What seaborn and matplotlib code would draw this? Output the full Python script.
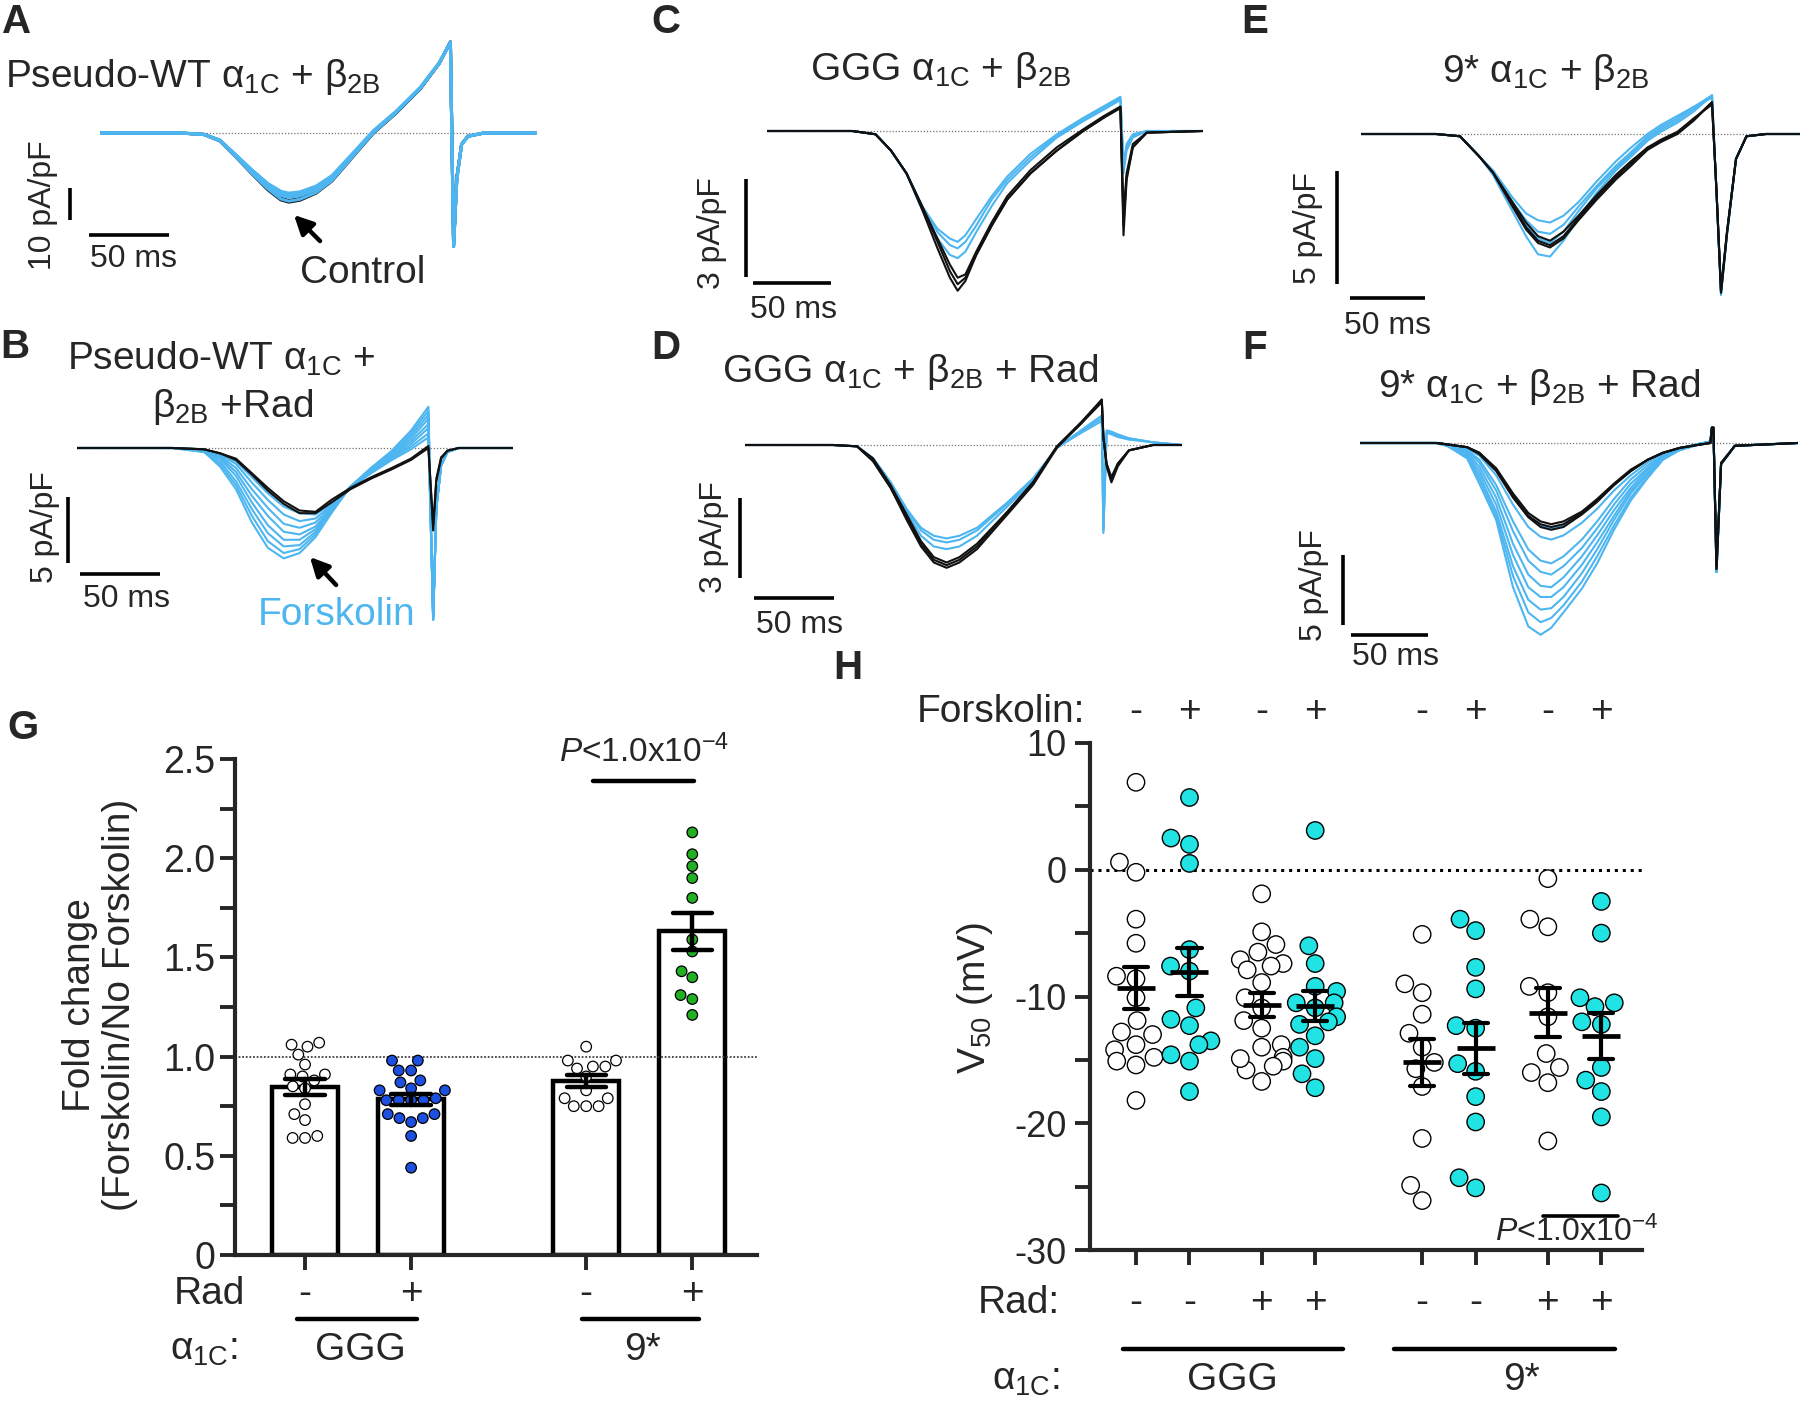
import numpy as np
import pandas as pd
import matplotlib
matplotlib.use("Agg")
import matplotlib.pyplot as plt
import matplotlib.transforms as mtransforms
from matplotlib.lines import Line2D
from matplotlib.patches import FancyArrowPatch
from matplotlib.ticker import MultipleLocator
import seaborn as sns

# ---------------------------------------------------------------- trace data
# current density (pA/pF) sampled at the listed times (ms)
t_A = [0, 50, 65, 75, 85, 95, 105, 113, 118, 125, 135, 145, 160, 171, 185, 200, 212, 219, 221, 223, 226, 230, 240, 273]
A_ctrl = [
    [0, 0, -0.5, -2.5, -7.5, -12.8, -17.8, -20.9, -21.6, -21.0, -18.8, -15.0, -6.3, 0.0, 6.2, 13.7, 21.7, 28.4, -35.0, -14.0, -3.5, -1.0, 0, 0],
    [0, 0, -0.4, -2.3, -7.2, -12.4, -17.4, -20.4, -21.1, -20.5, -18.4, -14.6, -6.0, 0.2, 6.3, 13.8, 21.8, 28.5, -35.0, -14.0, -3.5, -1.0, 0, 0],
]
A_fsk = [
    [0, 0, -0.4, -2.2, -6.8, -11.5, -15.8, -18.2, -18.8, -18.4, -16.6, -13.3, -5.2, 0.8, 6.8, 14.2, 22.0, 28.2, -35.5, -14.5, -3.6, -1.0, 0, 0],
    [0, 0, -0.4, -2.3, -7.0, -11.9, -16.3, -18.8, -19.4, -19.0, -17.2, -13.8, -5.5, 0.6, 6.6, 14.0, 21.9, 28.3, -35.5, -14.5, -3.6, -1.0, 0, 0],
    [0, 0, -0.5, -2.4, -7.2, -12.3, -16.9, -19.5, -20.1, -19.6, -17.7, -14.2, -5.8, 0.4, 6.5, 13.9, 21.8, 28.4, -35.5, -14.5, -3.6, -1.0, 0, 0],
    [0, 0, -0.5, -2.5, -7.5, -12.7, -17.5, -20.6, -21.3, -20.7, -18.6, -14.9, -6.2, 0.1, 6.3, 13.8, 21.8, 28.4, -35.5, -14.5, -3.6, -1.0, 0, 0],
]

t_B = [0, 60, 80, 90, 100, 110, 120, 130, 140, 150, 160, 172, 185, 198, 210, 221, 224, 226, 229, 233, 240, 274]
B_ctrl = [
    [0, 0, -0.1, -0.4, -0.8, -1.9, -3.0, -4.0, -4.7, -4.8, -3.9, -3.0, -2.2, -1.5, -0.8, 0.15, -6.2, -2.5, -0.8, -0.2, 0, 0],
    [0, 0, -0.1, -0.4, -0.9, -2.0, -3.2, -4.2, -4.9, -4.9, -4.1, -3.1, -2.3, -1.6, -0.9, 0.0, -5.8, -2.3, -0.7, -0.2, 0, 0],
]
B_fsk = [
    [0, 0, -0.1, -0.5, -1.0, -2.2, -3.4, -4.4, -4.9, -5.0, -4.2, -3.0, -1.9, -0.9, -0.1, 0.8, -12.6, -4.5, -1.3, -0.3, 0, 0],
    [0, 0, -0.1, -0.5, -1.2, -2.6, -3.9, -5.0, -5.5, -5.3, -4.3, -3.0, -1.8, -0.8, 0.1, 1.1, -12.7, -4.5, -1.3, -0.3, 0, 0],
    [0, 0, -0.1, -0.6, -1.5, -3.1, -4.5, -5.7, -6.0, -5.6, -4.4, -2.9, -1.8, -0.7, 0.3, 1.5, -12.8, -4.5, -1.3, -0.3, 0, 0],
    [0, 0, -0.2, -0.7, -1.8, -3.6, -5.1, -6.3, -6.5, -5.9, -4.5, -2.9, -1.7, -0.6, 0.5, 1.8, -12.9, -4.5, -1.3, -0.3, 0, 0],
    [0, 0, -0.2, -0.8, -2.1, -4.1, -5.8, -6.9, -6.9, -6.1, -4.6, -2.9, -1.6, -0.5, 0.7, 2.2, -12.9, -4.5, -1.3, -0.3, 0, 0],
    [0, 0, -0.2, -1.0, -2.5, -4.6, -6.4, -7.4, -7.3, -6.3, -4.7, -2.9, -1.6, -0.4, 0.9, 2.5, -12.9, -4.5, -1.3, -0.3, 0, 0],
    [0, 0, -0.3, -1.2, -2.8, -5.1, -7.0, -7.9, -7.6, -6.5, -4.8, -2.9, -1.5, -0.3, 1.1, 2.8, -12.9, -4.5, -1.3, -0.3, 0, 0],
    [0, 0, -0.3, -1.4, -3.1, -5.6, -7.5, -8.3, -7.9, -6.7, -4.9, -2.9, -1.5, -0.2, 1.3, 3.1, -12.9, -4.5, -1.3, -0.3, 0, 0],
]

t_C = [0, 55, 70, 80, 90, 100, 110, 118, 123, 128, 135, 145, 155, 170, 187, 204, 217, 228, 230, 232, 236, 245, 281]
C_ctrl = [
    [0, 0, -0.1, -0.6, -1.3, -2.4, -3.6, -4.5, -4.9, -4.6, -3.8, -2.9, -2.1, -1.3, -0.6, 0.0, 0.4, 0.74, -3.2, -1.5, -0.5, -0.05, 0],
    [0, 0, -0.1, -0.6, -1.3, -2.3, -3.4, -4.3, -4.7, -4.5, -3.8, -2.9, -2.1, -1.3, -0.6, 0.0, 0.4, 0.7, -2.6, -1.3, -0.4, -0.05, 0],
    [0, 0, -0.1, -0.6, -1.3, -2.3, -3.3, -4.1, -4.5, -4.4, -3.7, -2.8, -2.0, -1.2, -0.5, 0.05, 0.45, 0.75, -2.9, -1.4, -0.5, -0.05, 0],
]
C_fsk = [
    [0, 0, -0.1, -0.6, -1.3, -2.3, -3.1, -3.5, -3.6, -3.4, -2.9, -2.1, -1.5, -0.8, -0.15, 0.35, 0.7, 1.0, -1.1, -0.5, -0.15, 0, 0],
    [0, 0, -0.1, -0.6, -1.3, -2.4, -3.3, -3.8, -3.9, -3.7, -3.1, -2.3, -1.6, -0.9, -0.2, 0.3, 0.65, 0.95, -1.3, -0.6, -0.2, 0, 0],
    [0, 0, -0.1, -0.6, -1.3, -2.3, -3.0, -3.3, -3.4, -3.2, -2.7, -2.0, -1.4, -0.7, -0.1, 0.4, 0.75, 1.05, -1.0, -0.4, -0.1, 0, 0],
]

t_D = [0, 55, 70, 80, 91, 101, 110, 118, 126, 134, 145, 164, 180, 195, 210, 223, 224, 226, 229, 233, 240, 255, 273]
D_ctrl = [
    [0, 0, -0.05, -0.6, -1.6, -2.8, -3.8, -4.4, -4.6, -4.4, -3.9, -2.6, -1.5, -0.1, 0.8, 1.7, 0.3, -0.8, -1.4, -0.8, -0.2, 0, 0],
    [0, 0, -0.05, -0.6, -1.6, -2.7, -3.7, -4.3, -4.5, -4.3, -3.8, -2.5, -1.4, -0.05, 0.85, 1.7, 0.3, -0.7, -1.2, -0.7, -0.2, 0, 0],
    [0, 0, -0.05, -0.5, -1.5, -2.6, -3.6, -4.2, -4.4, -4.2, -3.7, -2.5, -1.4, -0.05, 0.8, 1.6, 0.3, -0.7, -1.3, -0.7, -0.2, 0, 0],
]
D_fsk = [
    [0, 0, -0.05, -0.5, -1.4, -2.4, -3.2, -3.55, -3.65, -3.55, -3.2, -2.2, -1.3, -0.1, 0.5, 1.0, -3.3, 0.5, 0.45, 0.35, 0.25, 0.1, 0],
    [0, 0, -0.05, -0.5, -1.4, -2.5, -3.4, -3.8, -3.9, -3.8, -3.4, -2.3, -1.35, -0.1, 0.45, 0.9, -3.1, 0.45, 0.4, 0.3, 0.2, 0.1, 0],
    [0, 0, -0.05, -0.5, -1.4, -2.4, -3.1, -3.4, -3.5, -3.4, -3.1, -2.15, -1.25, -0.1, 0.55, 1.1, -3.2, 0.55, 0.5, 0.4, 0.25, 0.1, 0],
]

t_E = [0, 50, 66, 79, 88, 101, 110, 118, 126, 135, 145, 157, 170, 180, 191, 200, 211, 222, 234, 237, 240, 244, 250, 257, 270, 293]
E_ctrl = [
    [0, 0, -0.1, -1.0, -1.7, -3.2, -4.2, -4.8, -5.0, -4.6, -3.8, -2.9, -2.0, -1.4, -0.7, -0.35, 0.0, 0.6, 1.4, -2.5, -7.0, -4.4, -1.1, -0.1, 0, 0],
    [0, 0, -0.1, -1.0, -1.7, -3.1, -4.1, -4.7, -4.9, -4.5, -3.7, -2.8, -1.9, -1.3, -0.6, -0.3, 0.05, 0.65, 1.4, -2.5, -6.9, -4.3, -1.1, -0.1, 0, 0],
    [0, 0, -0.1, -1.0, -1.7, -3.0, -3.9, -4.5, -4.7, -4.3, -3.6, -2.7, -1.8, -1.2, -0.6, -0.25, 0.1, 0.7, 1.3, -2.5, -6.9, -4.3, -1.1, -0.1, 0, 0],
]
E_fsk = [
    [0, 0, -0.1, -1.0, -1.8, -3.4, -4.5, -5.3, -5.4, -4.7, -3.7, -2.6, -1.6, -1.0, -0.3, 0.1, 0.5, 1.0, 1.7, -2.6, -7.1, -4.4, -1.1, -0.1, 0, 0],
    [0, 0, -0.1, -1.0, -1.7, -3.0, -3.8, -4.3, -4.4, -4.0, -3.2, -2.3, -1.4, -0.8, -0.1, 0.3, 0.7, 1.2, 1.7, -2.6, -7.0, -4.4, -1.1, -0.1, 0, 0],
    [0, 0, -0.1, -1.0, -1.6, -2.8, -3.5, -3.8, -3.9, -3.6, -3.0, -2.1, -1.2, -0.6, 0.0, 0.4, 0.8, 1.2, 1.6, -2.6, -7.0, -4.4, -1.1, -0.1, 0, 0],
    [0, 0, -0.1, -1.0, -1.7, -3.1, -4.0, -4.6, -4.8, -4.3, -3.4, -2.4, -1.5, -0.9, -0.2, 0.2, 0.6, 1.1, 1.7, -2.6, -7.0, -4.4, -1.1, -0.1, 0, 0],
]

t_F = [0, 50, 57, 70, 78, 89, 100, 110, 118, 125, 133, 145, 155, 166, 177, 188, 198, 209, 220, 229, 230, 231, 233, 236, 245, 286]
F_ctrl = [
    [0, 0, -0.1, -0.3, -0.7, -1.9, -3.8, -5.2, -5.8, -6.0, -5.8, -5.0, -4.1, -3.0, -2.0, -1.2, -0.7, -0.35, -0.15, 0.0, 1.1, 1.1, -9.0, -1.5, -0.2, 0],
    [0, 0, -0.1, -0.3, -0.7, -1.8, -3.6, -5.0, -5.6, -5.8, -5.6, -4.9, -4.0, -2.9, -1.9, -1.2, -0.7, -0.35, -0.15, 0.0, 1.1, 1.1, -8.8, -1.4, -0.2, 0],
    [0, 0, -0.1, -0.3, -0.8, -2.0, -3.9, -5.3, -6.0, -6.2, -6.0, -5.1, -4.2, -3.0, -2.0, -1.2, -0.7, -0.35, -0.15, 0.0, 1.1, 1.1, -9.0, -1.5, -0.2, 0],
]
F_fsk = [
    [0, 0, -0.1, -0.3, -0.7, -1.9, -3.8, -5.2, -5.9, -6.1, -5.9, -5.1, -4.2, -3.0, -2.0, -1.2, -0.7, -0.35, -0.1, 0.1, 1.1, 1.1, -9.2, -1.5, -0.2, 0],
    [0, 0, -0.1, -0.4, -0.9, -2.3, -4.4, -6.0, -6.7, -6.9, -6.6, -5.7, -4.7, -3.4, -2.3, -1.4, -0.75, -0.4, -0.1, 0.1, 1.1, 1.1, -9.2, -1.5, -0.2, 0],
    [0, 0, -0.1, -0.5, -1.2, -3.0, -5.6, -7.6, -8.4, -8.6, -8.1, -6.9, -5.6, -4.0, -2.6, -1.6, -0.85, -0.4, -0.1, 0.1, 1.1, 1.1, -9.2, -1.5, -0.2, 0],
    [0, 0, -0.1, -0.6, -1.4, -3.4, -6.3, -8.4, -9.2, -9.4, -8.8, -7.5, -6.1, -4.4, -2.9, -1.8, -0.9, -0.45, -0.1, 0.1, 1.1, 1.1, -9.2, -1.5, -0.2, 0],
    [0, 0, -0.1, -0.7, -1.7, -3.9, -7.2, -9.4, -10.2, -10.3, -9.6, -8.1, -6.6, -4.8, -3.2, -1.9, -0.95, -0.45, -0.1, 0.1, 1.1, 1.1, -9.2, -1.5, -0.2, 0],
    [0, 0, -0.2, -0.8, -2.0, -4.4, -8.0, -10.3, -11.0, -11.0, -10.3, -8.7, -7.1, -5.2, -3.4, -2.1, -1.0, -0.5, -0.1, 0.1, 1.1, 1.1, -9.2, -1.5, -0.2, 0],
    [0, 0, -0.2, -0.9, -2.3, -4.9, -8.8, -11.2, -11.9, -11.8, -11.0, -9.3, -7.6, -5.5, -3.6, -2.2, -1.05, -0.5, -0.15, 0.1, 1.1, 1.1, -9.2, -1.5, -0.2, 0],
    [0, 0, -0.2, -1.0, -2.6, -5.2, -9.5, -12.1, -12.8, -12.5, -11.6, -9.9, -8.1, -5.9, -3.9, -2.4, -1.1, -0.5, -0.15, 0.1, 1.1, 1.1, -9.2, -1.5, -0.2, 0],
    [0, 0, -0.2, -1.1, -2.9, -5.5, -10.3, -13.1, -13.7, -13.2, -12.1, -10.4, -8.6, -6.2, -4.1, -2.5, -1.2, -0.5, -0.15, 0.1, 1.1, 1.1, -9.2, -1.5, -0.2, 0],
]

# ---------------------------------------------------------------- panel G data
g_labels = ["GGG -", "GGG +", "9* -", "9* +"]
g_ggg_norad = [1.06, 1.05, 1.07, 1.01, 0.96, 0.91, 0.90, 0.91, 0.84, 0.85, 0.76, 0.71, 0.68, 0.59, 0.60, 0.59, 0.88]
g_ggg_rad = [0.98, 0.98, 0.93, 0.93, 0.88, 0.87, 0.84, 0.83, 0.83, 0.78, 0.78, 0.79, 0.78, 0.78,
             0.71, 0.69, 0.69, 0.67, 0.71, 0.60, 0.44]
g_9_norad = [1.05, 0.98, 0.98, 0.95, 0.95, 0.94, 0.90, 0.83, 0.79, 0.79, 0.75, 0.75, 0.75]
g_9_rad = [2.13, 2.02, 1.96, 1.90, 1.80, 1.59, 1.53, 1.43, 1.40, 1.31, 1.21, 1.29]

# ---------------------------------------------------------------- panel H data (V50, mV)
h_labels = ["GGG r- f-", "GGG r- f+", "GGG r+ f-", "GGG r+ f+", "9* r- f-", "9* r- f+", "9* r+ f-", "9* r+ f+"]
h_fsk = ["-", "+", "-", "+", "-", "+", "-", "+"]
h_rad = ["-", "-", "+", "+", "-", "-", "+", "+"]
h_ggg_f0 = [6.9, 0.6, -0.2, -3.9, -5.8, -8.4, -8.6, -10.1, -11.9, -12.8, -13.8, -14.2, -14.8, -15.1, -15.4, -18.2, -13.0]
h_ggg_f1 = [5.7, 2.5, 2.0, 0.5, -6.3, -7.6, -8.0, -10.9, -11.8, -12.3, -13.5, -13.8, -14.6, -15.1, -17.5]
h_ggg_rad_f0 = [-1.9, -4.9, -5.9, -6.5, -7.1, -7.4, -7.6, -7.9, -8.9, -10.1, -10.9, -11.9, -13.8, -14.8,
                -15.1, -15.5, -15.8, -16.7, -14.9, -12.5, -14.0]
h_ggg_rad_f1 = [3.1, -6.0, -7.4, -9.2, -9.6, -10.5, -10.5, -10.9, -11.6, -12.2, -13.1, -14.0, -14.9, -16.1, -17.2, -12.0]
h_9_f0 = [-5.1, -9.0, -9.7, -11.4, -12.9, -14.0, -15.2, -15.7, -17.1, -21.2, -24.9, -26.1]
h_9_f1 = [-3.9, -4.8, -7.7, -9.4, -12.3, -12.5, -15.3, -15.9, -17.9, -19.9, -24.3, -25.1]
h_9_rad_f0 = [-0.7, -3.9, -4.5, -9.2, -9.7, -11.6, -14.5, -15.6, -16.0, -16.8, -21.4]
h_9_rad_f1 = [-2.5, -5.0, -10.1, -10.5, -10.8, -12.0, -15.6, -16.6, -17.5, -19.5, -25.5, -12.2]

# ---------------------------------------------------------------- style
W, H = 1800, 1414
BLUE_TRACE = "#4db6f0"
CYAN = "#22e3e3"
G_COLORS = {"GGG -": "white", "GGG +": "#1d4fe0", "9* -": "white", "9* +": "#22b022"}
LETTER = dict(fontsize=29, fontweight="bold", ha="center", va="center")

sns.set_theme(style="ticks")
plt.rcParams["font.family"] = ["Liberation Sans", "DejaVu Sans"]
plt.rcParams["mathtext.fontset"] = "custom"
plt.rcParams["mathtext.rm"] = "Liberation Sans"
plt.rcParams["mathtext.it"] = "Liberation Sans:italic"
plt.rcParams["mathtext.bf"] = "Liberation Sans:bold"
plt.rcParams["axes.unicode_minus"] = False

fig = plt.figure(figsize=(W / 100, H / 100), dpi=100)
fig.patch.set_facecolor("white")


def fx(x):
    return x / W


def fy(y):
    return 1 - y / H


def ftext(x, y, s, **kw):
    kw.setdefault("fontsize", 28)
    fig.text(fx(x), fy(y), s, **kw)


def sweeps_frame(t, ctrl, fsk):
    rows = []
    for cond, sweeps in (("ctrl", ctrl), ("fsk", fsk)):
        for k, sw in enumerate(sweeps):
            assert len(sw) == len(t)
            for ti, v in zip(t, sw):
                rows.append((cond, f"{cond}{k}", ti, v))
    return pd.DataFrame(rows, columns=["cond", "sweep", "t", "I"])


def trace_panel(t, ctrl, fsk, x0, y0, px_ms, px_unit, ilim, blue_on_top, bars, lw=1.5):
    t_end = t[-1]
    left, right = x0, x0 + t_end * px_ms
    top, bottom = y0 - ilim[1] * px_unit, y0 - ilim[0] * px_unit
    ax = fig.add_axes([fx(left), fy(bottom), (right - left) / W, (bottom - top) / H])
    ax.set_facecolor("none")
    ax.axhline(0, ls=(0, (1, 1.5)), lw=0.9, color="0.45", zorder=0)
    df = sweeps_frame(t, ctrl, fsk)
    order = ["ctrl", "fsk"] if blue_on_top else ["fsk", "ctrl"]
    colors = {"ctrl": "#111111", "fsk": BLUE_TRACE}
    for cond in order:
        sns.lineplot(data=df[df["cond"] == cond], x="t", y="I", units="sweep", estimator=None,
                     color=colors[cond], lw=lw, ax=ax, legend=False)
    ax.set_xlim(0, t_end)
    ax.set_ylim(*ilim)
    ax.axis("off")
    # scale bars: 50 ms and v_len pA/pF
    h_left, h_y, v_x, v_top, v_len = bars
    tt = lambda x: (x - x0) / px_ms
    ii = lambda y: (y0 - y) / px_unit
    ax.plot([tt(h_left), tt(h_left) + 50], [ii(h_y), ii(h_y)], color="black", lw=2.6,
            clip_on=False, solid_capstyle="butt")
    ax.plot([tt(v_x), tt(v_x)], [ii(v_top), ii(v_top) - v_len], color="black", lw=2.6,
            clip_on=False, solid_capstyle="butt")
    return ax


def arrow(tail, head):
    fig.add_artist(FancyArrowPatch((fx(tail[0]), fy(tail[1])), (fx(head[0]), fy(head[1])),
                                   transform=fig.transFigure, arrowstyle="-|>",
                                   mutation_scale=28, lw=3.2, color="black"))


a1 = "α$_{\\mathregular{1C}}$"
b2 = "β$_{\\mathregular{2B}}$"

# ---------------------------------------------------------------- A
trace_panel(t_A, A_ctrl, A_fsk, 100, 133, 1.6, 3.2, (-36, 30), True, (89, 235, 70, 188, 10), lw=2.2)
ftext(17, 22, "A", **LETTER)
ftext(5, 87, f"Pseudo-WT {a1} + {b2}", ha="left", va="baseline")
ftext(43, 205, "10 pA/pF", fontsize=23, rotation=90, ha="center", va="center")
ftext(133, 267, "50 ms", fontsize=23, ha="center", va="baseline")
ftext(300, 283, "Control", ha="left", va="baseline")
arrow((322, 243), (292, 213))

# ---------------------------------------------------------------- B
trace_panel(t_B, B_ctrl, B_fsk, 77, 448, 1.59, 13.3, (-14, 4), False, (80, 574, 68, 497, 5))
ftext(15, 347, "B", **LETTER)
ftext(67, 370, f"Pseudo-WT {a1} +", ha="left", va="baseline")
ftext(152, 417, f"{b2} +Rad", ha="left", va="baseline")
ftext(45, 527, "5 pA/pF", fontsize=23, rotation=90, ha="center", va="center")
ftext(126, 607, "50 ms", fontsize=23, ha="center", va="baseline")
ftext(258, 625, "Forskolin", ha="left", va="baseline", color=BLUE_TRACE)
arrow((338, 587), (308, 555))

# ---------------------------------------------------------------- C
trace_panel(t_C, C_ctrl, C_fsk, 767, 131, 1.55, 32.6, (-5.5, 1.5), False, (753, 283, 746, 179, 3))
ftext(666, 22, "C", **LETTER)
ftext(810, 80, f"GGG {a1} + {b2}", ha="left", va="baseline")
ftext(712, 233, "3 pA/pF", fontsize=23, rotation=90, ha="center", va="center")
ftext(793, 318, "50 ms", fontsize=23, ha="center", va="baseline")

# ---------------------------------------------------------------- D
trace_panel(t_D, D_ctrl, D_fsk, 745, 445, 1.6, 26.7, (-5, 2.2), False, (754, 598, 740, 498, 3))
ftext(666, 348, "D", **LETTER)
ftext(722, 382, f"GGG {a1} + {b2} + Rad", ha="left", va="baseline")
ftext(714, 537, "3 pA/pF", fontsize=23, rotation=90, ha="center", va="center")
ftext(799, 633, "50 ms", fontsize=23, ha="center", va="baseline")

# ---------------------------------------------------------------- E
trace_panel(t_E, E_ctrl, E_fsk, 1361, 134, 1.5, 22.7, (-7.5, 2), False, (1350, 298, 1337, 171, 5))
ftext(1255, 22, "E", **LETTER)
ftext(1442, 82, f"9* {a1} + {b2}", ha="left", va="baseline")
ftext(1308, 228, "5 pA/pF", fontsize=23, rotation=90, ha="center", va="center")
ftext(1387, 334, "50 ms", fontsize=23, ha="center", va="baseline")

# ---------------------------------------------------------------- F
trace_panel(t_F, F_ctrl, F_fsk, 1360, 443, 1.53, 14.0, (-14.5, 1.5), False, (1351, 635, 1343, 555, 5))
ftext(1255, 348, "F", **LETTER)
ftext(1378, 397, f"9* {a1} + {b2} + Rad", ha="left", va="baseline")
ftext(1314, 585, "5 pA/pF", fontsize=23, rotation=90, ha="center", va="center")
ftext(1396, 665, "50 ms", fontsize=23, ha="center", va="baseline")

# ---------------------------------------------------------------- G
g_pos = {"GGG -": 0.0, "GGG +": 1.0, "9* -": 2.65, "9* +": 3.65}
dfG = pd.concat([pd.DataFrame({"group": name, "fold": vals})
                 for name, vals in zip(g_labels, [g_ggg_norad, g_ggg_rad, g_9_norad, g_9_rad])],
                ignore_index=True)
dfG["pos"] = dfG["group"].map(g_pos)

axG = fig.add_axes([fx(235), fy(1255), 522 / W, 496 / H])
sns.barplot(data=dfG, x="pos", y="fold", native_scale=True, errorbar=None, width=0.62,
            color="white", edgecolor="black", linewidth=3.2, ax=axG)
axG.axhline(1.0, ls=(0, (1, 1)), lw=1.3, color="0.25", zorder=1.5)
sns.swarmplot(data=dfG, x="pos", y="fold", hue="group", palette=G_COLORS, native_scale=True,
              size=7.6, edgecolor="black", linewidth=0.9, legend=False, ax=axG, zorder=3)
sns.pointplot(data=dfG, x="pos", y="fold", native_scale=True, errorbar="se", capsize=0.37,
              linestyle="none", marker="", color="black", err_kws={"linewidth": 3.2, "zorder": 5},
              ax=axG)
axG.set_xlim(-0.66, 4.26)
axG.set_ylim(0, 2.5)
axG.set_yticks([0, 0.5, 1.0, 1.5, 2.0, 2.5])
axG.set_yticklabels(["0", "0.5", "1.0", "1.5", "2.0", "2.5"])
axG.yaxis.set_minor_locator(MultipleLocator(0.25))
axG.set_xticks(list(g_pos.values()))
axG.set_xticklabels([])
axG.set_xlabel("")
axG.set_ylabel("")
sns.despine(ax=axG)
for sp in ("left", "bottom"):
    axG.spines[sp].set_linewidth(3)
axG.tick_params(axis="y", which="both", length=11, width=2.8, labelsize=27, pad=3)
axG.tick_params(axis="x", which="both", length=11, width=2.8)
axG.set_facecolor("none")

blendG = mtransforms.blended_transform_factory(axG.transData, fig.transFigure)
for name, sign in zip(g_labels, ["-", "+", "-", "+"]):
    axG.text(g_pos[name], fy(1294), sign, transform=blendG, ha="center", va="center", fontsize=28)
for x0_, x1_ in ((-0.08, 1.06), (2.61, 3.71)):
    axG.add_line(Line2D([x0_, x1_], [fy(1319), fy(1319)], transform=blendG, color="black",
                        lw=3.2, clip_on=False))
axG.text(0.52, fy(1350), "GGG", transform=blendG, ha="center", va="center", fontsize=28)
axG.text(3.18, fy(1350), "9*", transform=blendG, ha="center", va="center", fontsize=28)
axG.add_line(Line2D([2.71, 3.67], [fy(781), fy(781)], transform=blendG, color="black",
                    lw=3.2, clip_on=False))
axG.text(3.2, fy(752), "$\\mathit{P}$<1.0x10$^{\\mathregular{-4}}$", transform=blendG,
         ha="center", va="center", fontsize=24)
ftext(245, 1294, "Rad", ha="right", va="center")
ftext(170, 1350, f"{a1}:", ha="left", va="center")
ftext(100, 1005, "Fold change\n(Forskolin/No Forskolin)", rotation=90, ha="center", va="center",
      multialignment="center", linespacing=1.15)
ftext(23, 728, "G", **LETTER)

# ---------------------------------------------------------------- H
h_pos = dict(zip(h_labels, [0, 1, 2.35, 3.35, 5.35, 6.35, 7.7, 8.7]))
h_vals = [h_ggg_f0, h_ggg_f1, h_ggg_rad_f0, h_ggg_rad_f1, h_9_f0, h_9_f1, h_9_rad_f0, h_9_rad_f1]
dfH = pd.concat([pd.DataFrame({"group": name, "v50": vals, "fsk": f})
                 for name, vals, f in zip(h_labels, h_vals, h_fsk)], ignore_index=True)
dfH["pos"] = dfH["group"].map(h_pos)

axH = fig.add_axes([fx(1090), fy(1250), 552 / W, 507 / H])
axH.axhline(0, ls=(0, (1, 1.6)), lw=2.2, color="black", zorder=1)
sns.swarmplot(data=dfH, x="pos", y="v50", hue="fsk", palette={"-": "white", "+": CYAN},
              native_scale=True, size=12.5, edgecolor="black", linewidth=1.0, legend=False,
              ax=axH, zorder=3)
sns.pointplot(data=dfH, x="pos", y="v50", native_scale=True, errorbar="se", capsize=0.45,
              linestyle="none", marker="_", markersize=27, markeredgewidth=3.4, color="black",
              err_kws={"linewidth": 3, "zorder": 5}, ax=axH, zorder=5)
axH.set_xlim(-0.86, 9.46)
axH.set_ylim(-30, 10)
axH.set_yticks([-30, -20, -10, 0, 10])
axH.set_yticklabels(["-30", "-20", "-10", "0", "10"])
axH.yaxis.set_minor_locator(MultipleLocator(5))
axH.set_xticks(list(h_pos.values()))
axH.set_xticklabels([])
axH.set_xlabel("")
axH.set_ylabel("")
sns.despine(ax=axH)
for sp in ("left", "bottom"):
    axH.spines[sp].set_linewidth(3)
axH.tick_params(axis="y", which="both", length=11, width=2.8, labelsize=26, pad=6)
axH.tick_params(axis="x", which="both", length=11, width=2.8)
axH.set_facecolor("none")

blendH = mtransforms.blended_transform_factory(axH.transData, fig.transFigure)
for name, f, r in zip(h_labels, h_fsk, h_rad):
    axH.text(h_pos[name], fy(712), f, transform=blendH, ha="center", va="center", fontsize=28)
    axH.text(h_pos[name], fy(1303), r, transform=blendH, ha="center", va="center", fontsize=28)
for x0_, x1_ in ((-0.24, 3.87), (4.82, 8.95)):
    axH.add_line(Line2D([x0_, x1_], [fy(1349), fy(1349)], transform=blendH, color="black",
                        lw=3.2, clip_on=False))
axH.text(1.8, fy(1380), "GGG", transform=blendH, ha="center", va="center", fontsize=28)
axH.text(7.2, fy(1380), "9*", transform=blendH, ha="center", va="center", fontsize=28)
axH.add_line(Line2D([7.61, 9.01], [fy(1216), fy(1216)], transform=blendH, color="black",
                    lw=2.6, clip_on=False))
ftext(1495, 1232, "$\\mathit{P}$<1.0x10$^{\\mathregular{-4}}$", fontsize=23, ha="left", va="center")
ftext(1085, 712, "Forskolin:", ha="right", va="center")
ftext(1060, 1303, "Rad:", ha="right", va="center")
ftext(1060, 1380, f"{a1}:", ha="right", va="center")
ftext(975, 998, "V$_{\\mathregular{50}}$ (mV)", rotation=90, ha="center", va="center")
ftext(848, 668, "H", **LETTER)

fig.savefig("out.png", dpi=100)
